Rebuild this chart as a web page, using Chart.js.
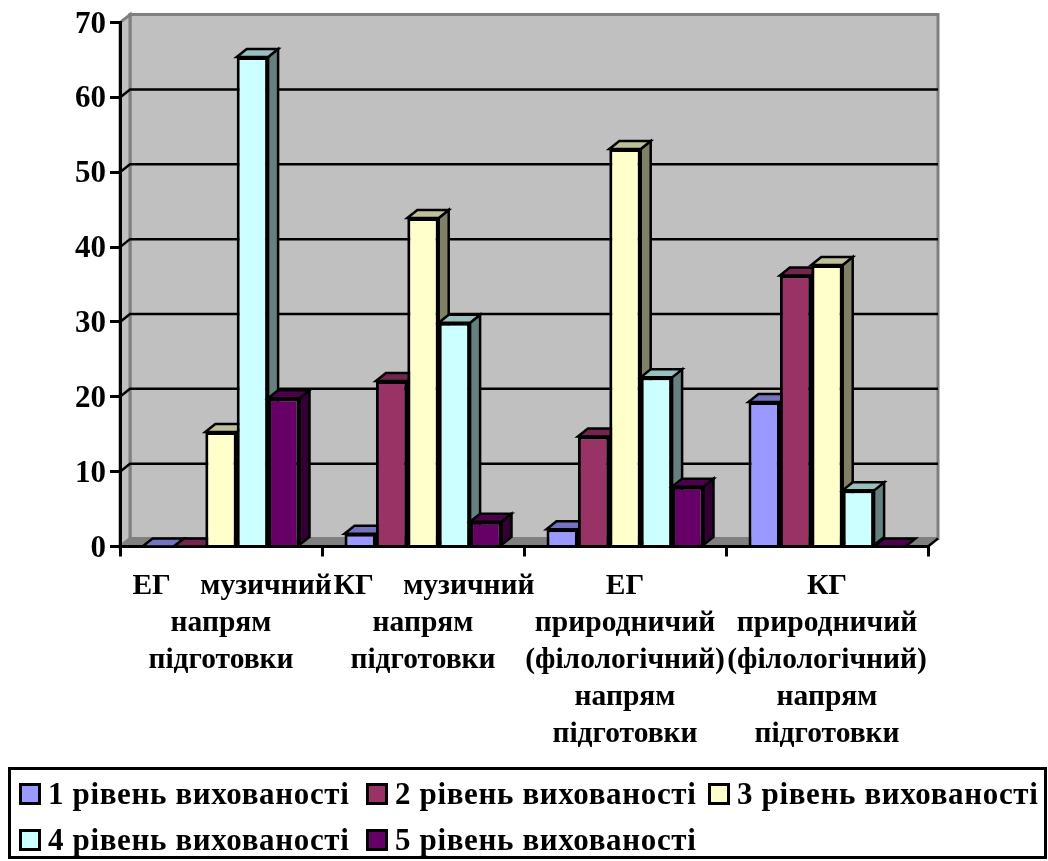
<!DOCTYPE html>
<html>
<head>
<meta charset="utf-8">
<style>
  body { margin: 0; background: #fff; position: relative; width: 1048px; height: 861px; overflow: hidden; }
  canvas { display: block; }
  #legend {
    position: absolute; left: 8px; top: 767px; width: 1039px; height: 92px;
    box-sizing: border-box; border: 3px solid #000;
    display: grid; grid-template-columns: 347px 342px 1fr; grid-auto-rows: 46px;
    padding: 1px 0 0 8px; align-items: center;
    font: bold 31px "Liberation Serif", "Times New Roman", serif; letter-spacing: 0.65px; color: #000;
  }
  #legend .item { display: flex; align-items: center; white-space: nowrap; }
  #legend .box { width: 22px; height: 22px; box-sizing: border-box; border: 3px solid #000; margin-right: 7px; flex: none; }
</style>
<script src="https://cdn.jsdelivr.net/npm/chart.js@4"></script>
</head>
<body>
<canvas id="chart" width="1048" height="861"></canvas>
<div id="legend"></div>
<script>
// категорії
const categories = [
    ['   ЕГ    музичний', 'напрям', 'підготовки'],
    ['   КГ    музичний', 'напрям', 'підготовки'],
    ['ЕГ', 'природничий', '(філологічний)', 'напрям', 'підготовки'],
    ['КГ', 'природничий', '(філологічний)', 'напрям', 'підготовки']
];
const level1 = [0, 1.7, 2.3, 19.3];
const level2 = [0, 22.1, 14.7, 36.2];
const level3 = [15.3, 43.9, 53.1, 37.6];
const level4 = [65.4, 29.9, 22.6, 7.5];
const level5 = [19.8, 3.3, 8, 0];
const seriesNames = ['1 рівень вихованості', '2 рівень вихованості', '3 рівень вихованості', '4 рівень вихованості', '5 рівень вихованості'];
const seriesColors = ['#9999FF', '#993366', '#FFFFCC', '#CCFFFF', '#660066'];
const seriesValues = [level1, level2, level3, level4, level5];

const DX = 10, DY = 8; // глибина 3D
const serif = '"Liberation Serif", "Times New Roman", serif';

function shade(hex, k) {
    const n = parseInt(hex.slice(1), 16);
    const r = Math.round((n >> 16 & 255) * k);
    const g = Math.round((n >> 8 & 255) * k);
    const b = Math.round((n & 255) * k);
    return `rgb(${r},${g},${b})`;
}

function poly(ctx, pts, fill, stroke, lw) {
    ctx.beginPath();
    pts.forEach((p, i) => i ? ctx.lineTo(p[0], p[1]) : ctx.moveTo(p[0], p[1]));
    ctx.closePath();
    if (fill) { ctx.fillStyle = fill; ctx.fill(); }
    if (stroke) { ctx.strokeStyle = stroke; ctx.lineWidth = lw; ctx.lineJoin = 'miter'; ctx.stroke(); }
}

// стіни, підлога, сітка
const wallsPlugin = {
    id: 'walls',
    beforeDraw(chart) {
        const { ctx, chartArea: a, scales } = chart;
        const l = a.left, r = a.right, t = a.top, b = a.bottom;
        ctx.save();
        poly(ctx, [[l + DX, t - DY], [r + DX, t - DY], [r + DX, b - DY], [l + DX, b - DY]], '#C0C0C0', '#808080', 3);
        poly(ctx, [[l, t], [l + DX, t - DY], [l + DX, b - DY], [l, b]], '#C0C0C0', '#808080', 3);
        poly(ctx, [[l, b], [l + DX, b - DY], [r + DX, b - DY], [r, b]], '#808080', null, 0);
        ctx.strokeStyle = '#000';
        ctx.lineWidth = 2.5;
        scales.y.ticks.forEach(tk => {
            if (tk.value === 0 || tk.value === 70) return;
            const y = scales.y.getPixelForValue(tk.value);
            ctx.beginPath();
            ctx.moveTo(l, y);
            ctx.lineTo(l + DX, y - DY);
            ctx.lineTo(r + DX, y - DY);
            ctx.stroke();
        });
        // правий край підлоги
        ctx.beginPath();
        ctx.moveTo(r, b);
        ctx.lineTo(r + DX, b - DY);
        ctx.stroke();
        ctx.restore();
    }
};

// стовпчики малюємо зліва направо, щоб передня грань закривала бокову сусіда
const bar3dPlugin = {
    id: 'bar3d',
    beforeDatasetsDraw(chart) {
        const ctx = chart.ctx;
        seriesNames.forEach((name, i) => {
            const meta = chart.getDatasetMeta(i);
            const color = seriesColors[i];
            ctx.save();
            meta.data.forEach(bar => {
                const p = bar.getProps(['x', 'y', 'base', 'width'], true);
                const x0 = p.x - p.width / 2, x1 = p.x + p.width / 2;
                if (p.base - p.y > 1) {
                    poly(ctx, [[x1, p.y], [x1 + DX, p.y - DY], [x1 + DX, p.base - DY], [x1, p.base]], shade(color, 0.5), '#000', 2.5);
                }
                poly(ctx, [[x0, p.y], [x0 + DX, p.y - DY], [x1 + DX, p.y - DY], [x1, p.y]], shade(color, 0.75), '#000', 2.5);
                bar.draw(ctx);
            });
            ctx.restore();
        });
    },
    beforeDatasetDraw() {
        return false; // вже намальовано вище
    }
};

// легенда в HTML
const htmlLegendPlugin = {
    id: 'htmlLegend',
    afterUpdate(chart) {
        const box = document.getElementById('legend');
        box.innerHTML = '';
        chart.data.datasets.forEach(ds => {
            const item = document.createElement('div');
            item.className = 'item';
            const sw = document.createElement('span');
            sw.className = 'box';
            sw.style.background = ds.backgroundColor;
            item.appendChild(sw);
            item.appendChild(document.createTextNode(ds.label));
            box.appendChild(item);
        });
    }
};

new Chart(document.getElementById('chart'), {
    type: 'bar',
    data: {
        labels: categories,
        datasets: seriesNames.map((name, i) => ({
            label: name,
            data: seriesValues[i],
            backgroundColor: seriesColors[i],
            borderColor: '#000',
            borderWidth: 3,
            categoryPercentage: 157 / 202,
            barPercentage: 1
        }))
    },
    options: {
        responsive: false,
        animation: false,
        devicePixelRatio: 1,
        layout: { padding: { top: 20.5, left: 0, right: 0, bottom: 0 } },
        plugins: {
            tooltip: { enabled: false },
            legend: { display: false }
        },
        scales: {
            x: {
                afterFit: s => { s.height = 314.5; },
                border: { color: '#000', width: 3 },
                grid: { drawOnChartArea: false, drawTicks: true, tickLength: 10, color: '#000', lineWidth: 3 },
                ticks: {
                    color: '#000',
                    autoSkip: false,
                    maxRotation: 0,
                    minRotation: 0,
                    padding: 11,
                    font: { family: serif, weight: 'bold', size: 29.5, lineHeight: '37px' }
                }
            },
            y: {
                min: 0,
                max: 70,
                afterFit: s => { s.width = 120; },
                border: { color: '#000', width: 3 },
                grid: { drawOnChartArea: false, drawTicks: true, tickLength: 10, color: '#000', lineWidth: 3 },
                ticks: {
                    stepSize: 10,
                    color: '#000',
                    padding: 4,
                    labelOffset: 2,
                    font: { family: serif, weight: 'bold', size: 31 }
                }
            },
            // порожня вісь справа, тримає праве поле
            spacer: {
                position: 'right',
                afterFit: s => { s.width = 120; },
                border: { display: false },
                grid: { display: false },
                ticks: { display: false }
            }
        }
    },
    plugins: [wallsPlugin, bar3dPlugin, htmlLegendPlugin]
});
</script>
</body>
</html>
